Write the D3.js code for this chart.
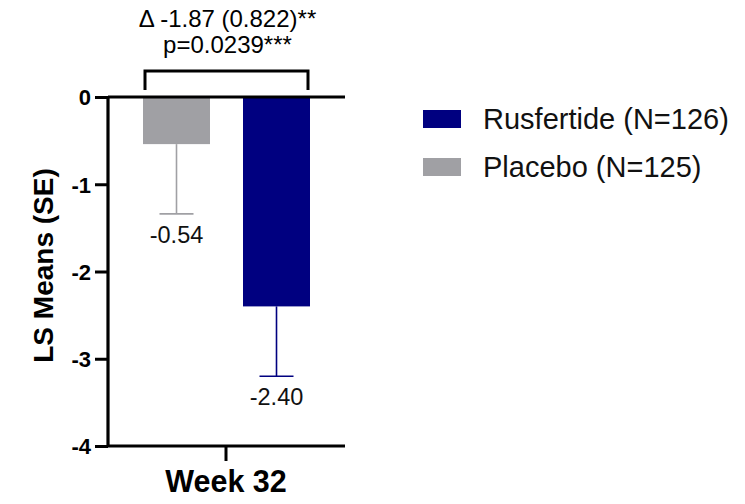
<!DOCTYPE html>
<html>
<head>
<meta charset="utf-8">
<script src="https://cdn.jsdelivr.net/npm/d3@7"></script>
<style>
  html, body { margin: 0; padding: 0; background: #fff; }
  svg { display: block; font-family: Arial, "Liberation Sans", sans-serif; }
</style>
</head>
<body>
<svg id="chart" width="745" height="504"></svg>
<script>
// Treatment groups at Week 32, drawn left to right
const groups = ["Placebo", "Rusfertide"];
const lsMeans = [-0.54, -2.40];
const stdErrors = [0.80, 0.80];
const valueLabels = ["-0.54", "-2.40"];
const barColors = ["#a0a0a4", "#000080"];
const legendLabels = ["Rusfertide (N=126)", "Placebo (N=125)"];
const legendColors = ["#000080", "#a0a0a4"];
const category = ["Week 32"];
const yTicks = [0, -1, -2, -3, -4];
const annotation = ["\u0394 -1.87 (0.822)**", "p=0.0239***"];

const FONT = "Arial, 'Liberation Sans', sans-serif";
const svg = d3.select("#chart");

const axisLeftX = 108;
const plotRight = 345;

const y = d3.scaleLinear().domain([0, -4]).range([97, 446]);
const xCat = d3.scaleBand().domain(category).range([axisLeftX, 344]).padding(0);
const xBar = d3.scaleBand().domain(groups).range([143, 310]).paddingInner(0.33).paddingOuter(0);

// Bars
svg.selectAll("rect.bar").data(groups).join("rect")
  .attr("class", "bar")
  .attr("x", d => xBar(d))
  .attr("width", xBar.bandwidth())
  .attr("y", y(0))
  .attr("height", (d, i) => y(lsMeans[i]) - y(0))
  .attr("fill", (d, i) => barColors[i]);

// Error bars (downward only) with value labels beneath
groups.forEach((g, i) => {
  const cx = xBar(g) + xBar.bandwidth() / 2;
  const low = lsMeans[i] - stdErrors[i];
  svg.append("line")
    .attr("x1", cx).attr("x2", cx)
    .attr("y1", y(lsMeans[i])).attr("y2", y(low))
    .attr("stroke", barColors[i]).attr("stroke-width", 1.6);
  svg.append("line")
    .attr("x1", cx - 17).attr("x2", cx + 17)
    .attr("y1", y(low)).attr("y2", y(low))
    .attr("stroke", barColors[i]).attr("stroke-width", 1.6);
  svg.append("text")
    .attr("x", cx)
    .attr("y", y(low) + 29)
    .attr("text-anchor", "middle")
    .attr("font-size", 23.5)
    .attr("fill", "#111")
    .text(valueLabels[i]);
});

// Y axis
const yAxis = d3.axisLeft(y).tickValues(yTicks).tickSize(13).tickPadding(4)
  .tickFormat(d => String(d));
const gy = svg.append("g").attr("transform", `translate(${axisLeftX},0)`).call(yAxis);
gy.select(".domain").attr("stroke", "#000").attr("stroke-width", 3.2)
  .attr("d", `M0,${y(0)}V${y(-4)}`);
gy.selectAll(".tick line").attr("stroke", "#000").attr("stroke-width", 3);
gy.selectAll(".tick text")
  .attr("font-size", 22).attr("font-weight", "bold").attr("fill", "#000")
  .attr("font-family", FONT)
  .attr("dy", "0.36em");

// Zero reference line across plot
svg.append("line")
  .attr("x1", axisLeftX).attr("x2", plotRight)
  .attr("y1", y(0)).attr("y2", y(0))
  .attr("stroke", "#000").attr("stroke-width", 3.2);

// Bottom category axis
const xAxis = d3.axisBottom(xCat).tickSize(15).tickPadding(16);
const gx = svg.append("g").attr("transform", `translate(0,${y(-4)})`).call(xAxis);
gx.select(".domain").attr("stroke", "#000").attr("stroke-width", 3.2)
  .attr("d", `M${axisLeftX},0H${plotRight}`);
gx.selectAll(".tick line").attr("stroke", "#000").attr("stroke-width", 3);
gx.selectAll(".tick text")
  .attr("font-size", 30.5).attr("font-weight", "bold").attr("fill", "#000")
  .attr("font-family", FONT)
  .attr("y", 46).attr("dy", 0);

// Y axis title
svg.append("text")
  .attr("transform", `translate(53,${(y(0) + y(-4)) / 2 - 6}) rotate(-90)`)
  .attr("text-anchor", "middle")
  .attr("font-size", 28).attr("font-weight", "bold").attr("fill", "#000")
  .text("LS Means (SE)");

// Comparison bracket
const bL = xBar(groups[0]) + 2, bR = xBar(groups[1]) + xBar.bandwidth() - 2;
svg.append("path")
  .attr("d", `M${bL},90V71H${bR}V90`)
  .attr("fill", "none").attr("stroke", "#000").attr("stroke-width", 3);

svg.selectAll("text.annot").data(annotation).join("text")
  .attr("class", "annot")
  .attr("x", (bL + bR) / 2 + 1)
  .attr("y", (d, i) => 27 + i * 26)
  .attr("text-anchor", "middle")
  .attr("font-size", 24).attr("fill", "#000")
  .text(d => d);

// Legend
const lg = svg.append("g").attr("transform", "translate(423,110)");
legendLabels.forEach((lab, i) => {
  lg.append("rect")
    .attr("x", 0).attr("y", i * 48)
    .attr("width", 38).attr("height", 18)
    .attr("fill", legendColors[i]);
  lg.append("text")
    .attr("x", 60).attr("y", i * 48 + 19)
    .attr("font-size", 29).attr("fill", "#111")
    .text(lab);
});
</script>
</body>
</html>
